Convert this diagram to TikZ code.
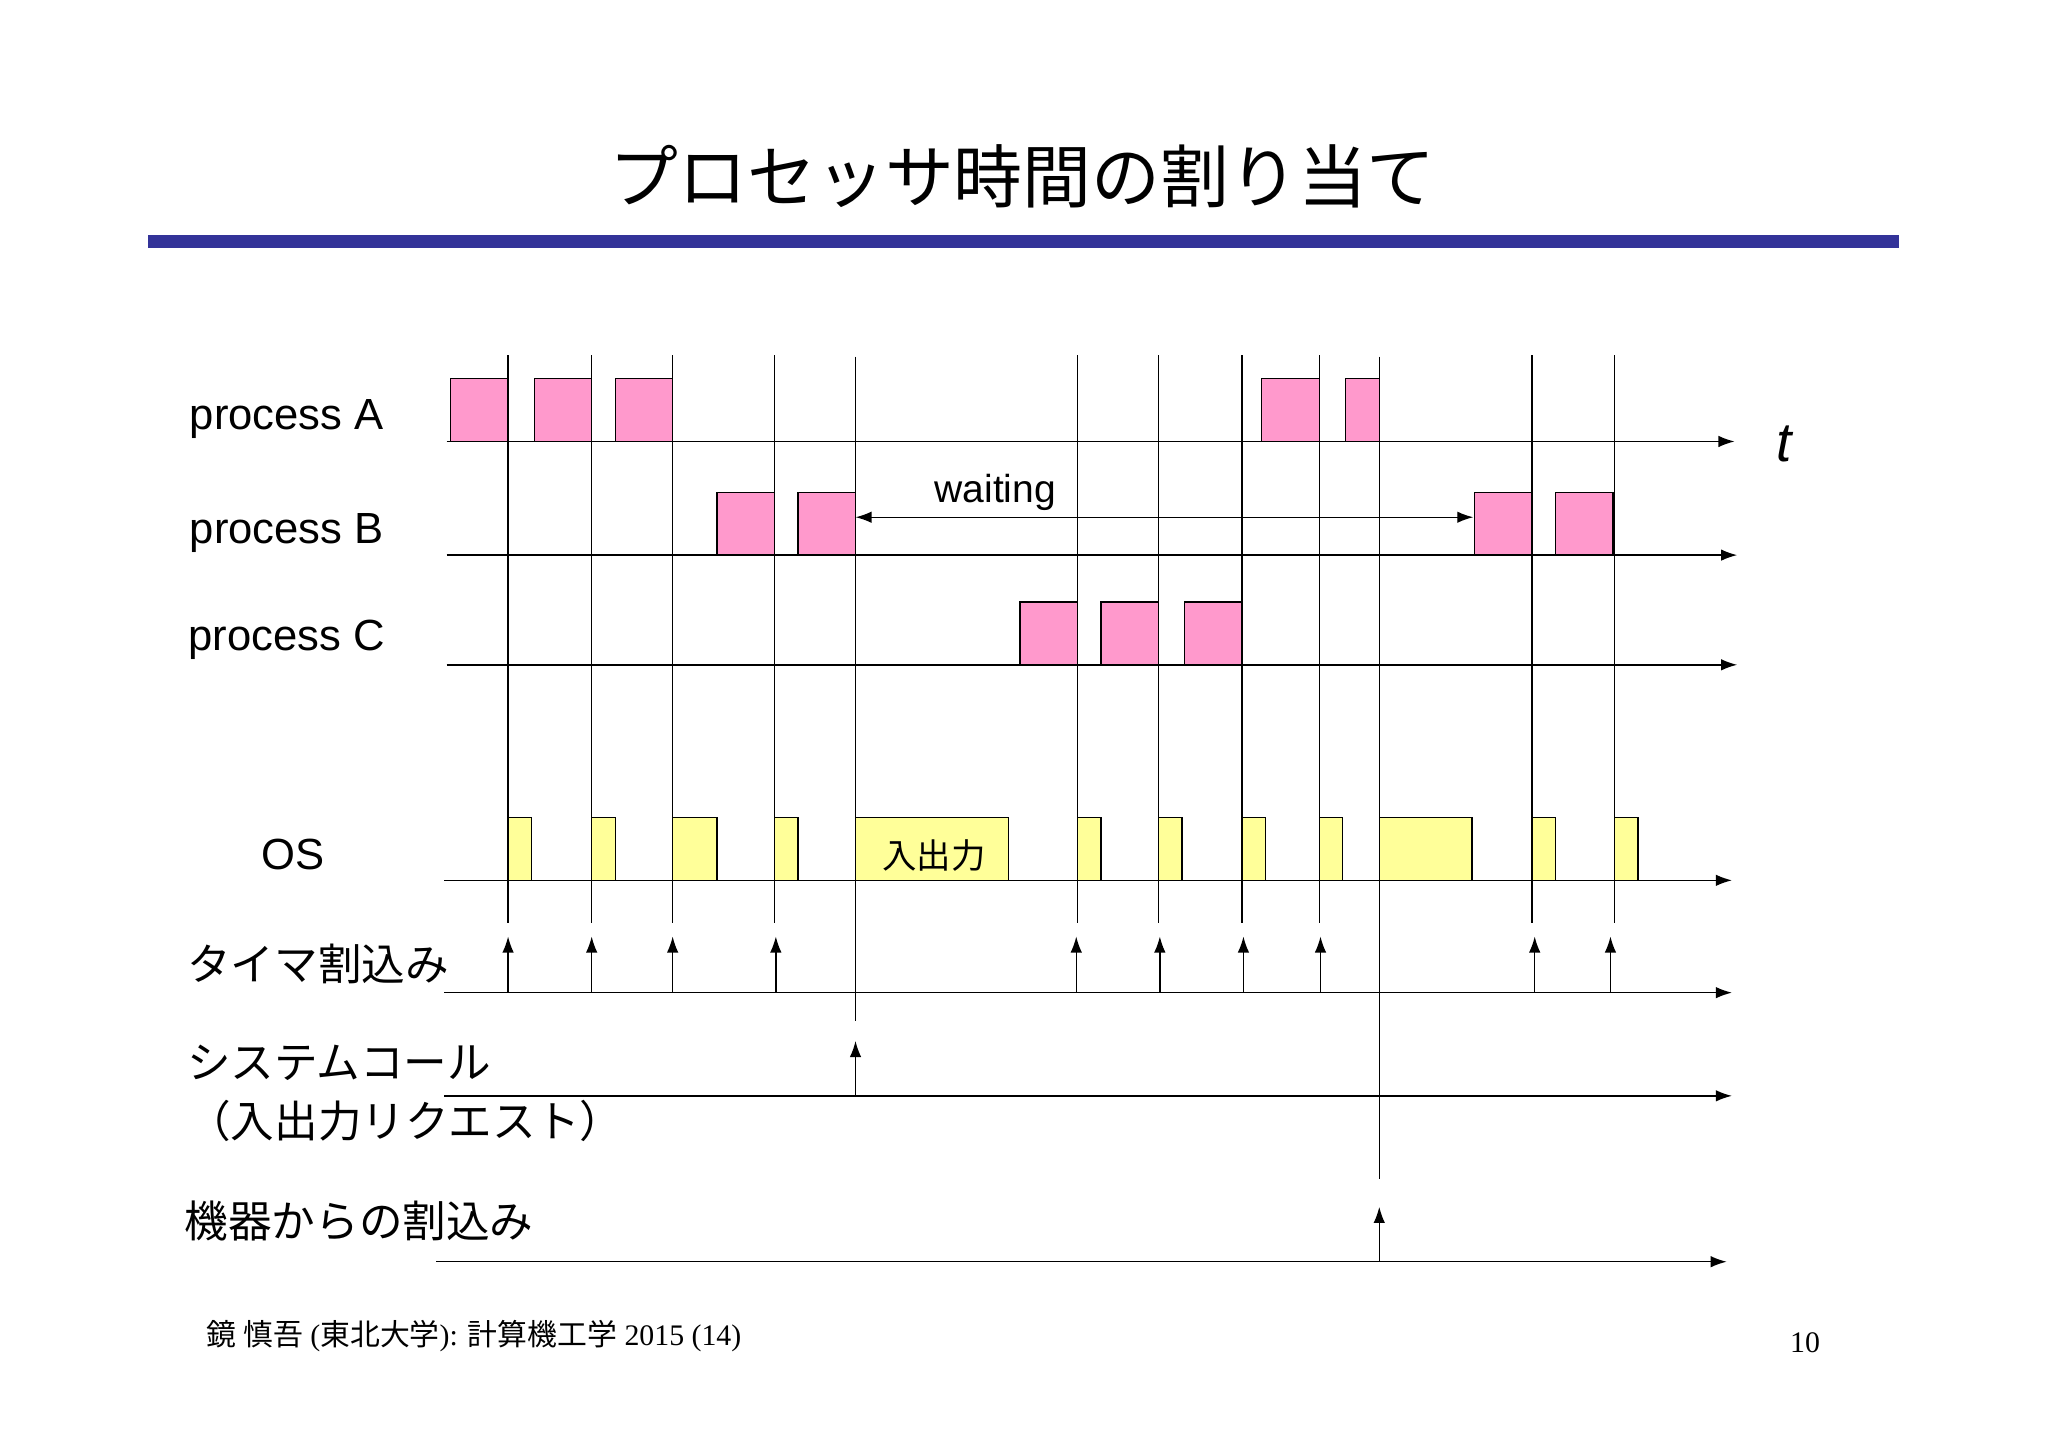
\documentclass[tikz,border=0pt]{standalone}
\usepackage{fontspec}
\setmainfont{Liberation Sans}
\newfontfamily\jp{Noto Sans CJK JP}
\newfontfamily\ser{Liberation Serif}
\usetikzlibrary{arrows.meta}
\begin{document}
\begin{tikzpicture}[x=0.02cm,y=-0.02cm,
  ax/.style={-{Latex[length=7pt,width=5pt]},line width=0.6pt},
  vl/.style={line width=0.6pt},
  pbox/.style={draw,line width=0.6pt,fill={rgb,255:red,255;green,153;blue,204}},
  ybox/.style={draw,line width=0.6pt,fill={rgb,255:red,255;green,255;blue,153}},
  tick/.style={-{Latex[length=7pt,width=5pt]},line width=0.6pt},
  lab/.style={anchor=west,font=\fontsize{19}{22}\selectfont,inner sep=0pt}]
\useasboundingbox (0,0) rectangle (1568,1108);
\node (title) at (783,135) {\jp\fontsize{30}{34}\selectfont プロセッサ時間の割り当て};
\fill[fill={rgb,255:red,51;green,51;blue,153}] (113,180) rectangle (1454,190);
% axes
\foreach \n/\y/\a/\b in {A/338/342/1328,B/425/342/1330,C/509/342/1330,O/674/340/1326,T/760/340/1326,S/839/340/1326,D/966/334/1322}{
  \coordinate (s\n) at (\a,\y); \coordinate (e\n) at (\b,\y);
  \draw[ax] (s\n) -- (e\n);}
% vertical lines
\foreach \x in {389,453,515,593,825,887,951,1010,1173,1236}{
  \coordinate (vt\x) at (\x,272); \coordinate (vb\x) at (\x,707);
  \draw[vl] (vt\x) -- (vb\x);}
\coordinate (v655t) at (655,273); \coordinate (v655b) at (655,782);
\draw[vl] (v655t) -- (v655b);
\coordinate (v1056t) at (1056,273); \coordinate (v1056b) at (1056,903);
\draw[vl] (v1056t) -- (v1056b);
% process boxes
\foreach \a/\b in {345/389,409/453,471/515,966/1010,1030/1056}{\draw[pbox] (\a,290) rectangle (\b,338);}
\foreach \a/\b in {549/593,611/655,1129/1173,1191/1235}{\draw[pbox] (\a,377) rectangle (\b,425);}
\foreach \a/\b in {781/825,843/887,907/951}{\draw[pbox] (\a,461) rectangle (\b,509);}
\foreach \a/\b in {389/407,453/471,515/549,593/611,825/843,887/905,951/969,1010/1028,1173/1191,1236/1254,1056/1127}{\draw[ybox] (\a,626) rectangle (\b,674);}
\draw[ybox] (655,626) rectangle (772,674);
\node (io) at (715,655) {\jp\fontsize{15}{18}\selectfont 入出力};
% waiting
\coordinate (w1) at (655,396); \coordinate (w2) at (1128,396);
\draw[{Latex[length=7pt,width=5pt]}-{Latex[length=7pt,width=5pt]},line width=0.6pt] (w1) -- (w2);
\node (wt) at (762,377) {\fontsize{17}{20}\selectfont waiting};
\node (t) at (1366,340) {\fontsize{24}{28}\selectfont\itshape t};
% ticks
\foreach \x in {389,453,515,594,824,888,952,1011,1175,1233}{
  \coordinate (tb\x) at (\x,760); \coordinate (tt\x) at (\x,717);
  \draw[tick] (tb\x) -- (tt\x);}
\coordinate (sb) at (655,839); \coordinate (st) at (655,797); \draw[tick] (sb) -- (st);
\coordinate (db) at (1056,966); \coordinate (dt) at (1056,924); \draw[tick] (db) -- (dt);
% labels
\node[lab] (la) at (145,321) {process A};
\node[lab] (lb) at (145,408) {process B};
\node[lab] (lc) at (144,490) {process C};
\node[lab] (lo) at (200,654) {OS};
\node[lab] (lt) at (143,738) {\jp タイマ割込み};
\node[lab] (ls) at (143,814) {\jp システムコール};
\node[lab] (ls2) at (143,858) {\jp （入出力リクエスト）};
\node[lab] (ld) at (141,935) {\jp 機器からの割込み};
\node[anchor=west,inner sep=0pt] (foot) at (158,1023) {\fontsize{13}{15}\selectfont\ser{\jp 鏡 慎吾} ({\jp 東北大学}): {\jp 計算機工学} 2015 (14)};
\node (pg) at (1382,1028) {\fontsize{13}{15}\selectfont\ser 10};
\end{tikzpicture}
\end{document}
